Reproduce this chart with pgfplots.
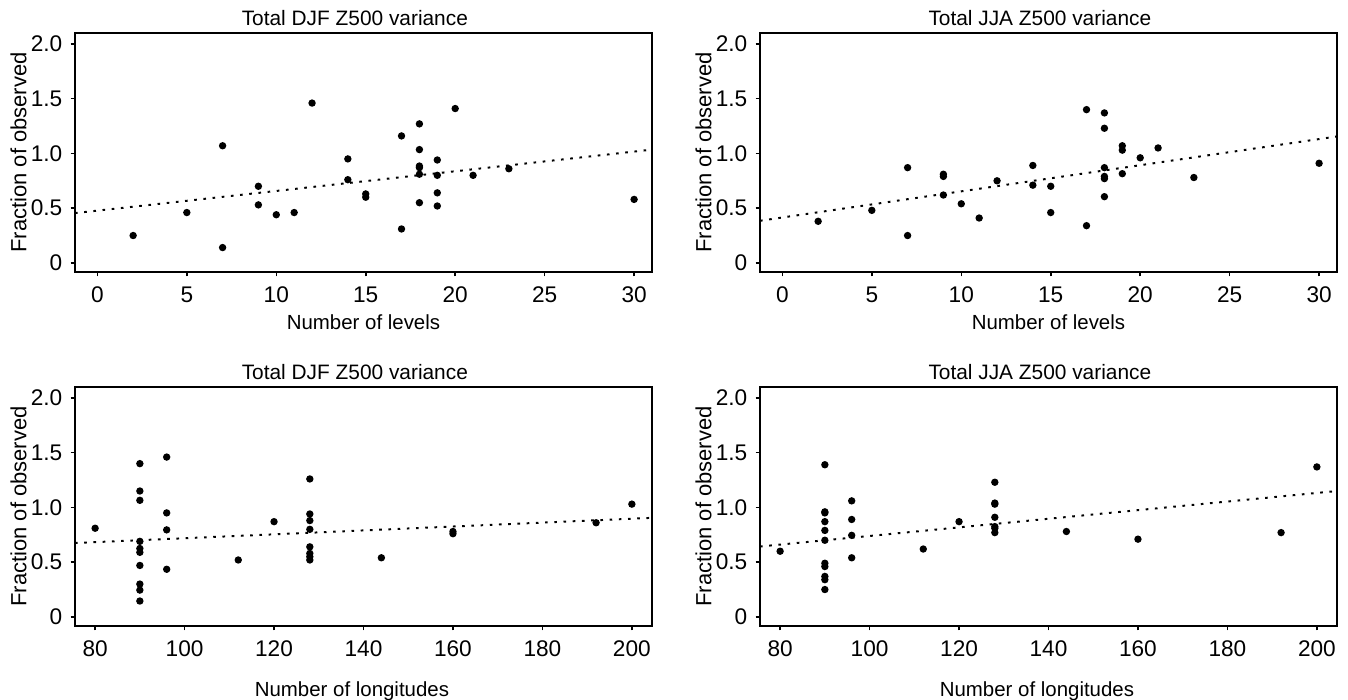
\documentclass[border=0pt]{standalone}
\usepackage{fontspec}
\setmainfont{Liberation Sans}
\usepackage{pgfplots}
\pgfplotsset{compat=1.18}

\pgfplotsset{
  panel/.style={
    scale only axis,
    width=9.232cm, height=3.824cm,
    ymin=-0.083, ymax=2.1,
    ytick={0,0.5,1,1.5,2},
    yticklabels={0,0.5,1.0,1.5,2.0},
    tick align=outside,
    xtick pos=lower, ytick pos=left,
    major tick length=0.07cm,
    line width=0.9pt,
    major tick style={line width=0.7pt,black},
    /pgf/number format/assume math mode=true,
    tick label style={font=\fontsize{10.3}{12}\selectfont},
    xticklabel style={yshift=-0.04cm},
    every axis title/.style={font=\fontsize{9.5}{11}\selectfont,at={(axis description cs:0.485,1.063)},anchor=center},
    ylabel={Fraction of observed},
    ylabel style={font=\fontsize{10}{12}\selectfont,at={(axis description cs:-0.098,0.5)},anchor=center},
    xlabel style={font=\fontsize{9.3}{11}\selectfont},
    anchor=north west,
  },
  pts/.style={only marks,mark=*,mark size=1.2pt,black},
  trend/.style={black,line width=0.9pt,dash pattern=on 1.2pt off 3pt},
}

\begin{document}
\begin{tikzpicture}
\useasboundingbox (0,0) rectangle (21.568cm,-11.2cm);

% DJF, levels
\begin{axis}[panel, at={(1.2cm,-0.528cm)},
  xmin=-1.25, xmax=31, xtick={0,5,10,15,20,25,30},
  title={Total DJF Z500 variance},
  xlabel={Number of levels},
  xlabel style={at={(axis description cs:0.5,-0.21)},anchor=center}]
\addplot[trend] coordinates {(-1.25,0.455) (31,1.035)};
\addplot[pts] coordinates {
  (2,0.25) (5,0.46) (7,1.07) (7,0.14) (9,0.70) (9,0.53) (10,0.44) (11,0.46)
  (12,1.46) (14,0.95) (14,0.76) (15,0.63) (15,0.60) (17,1.16) (17,0.31)
  (18,1.27) (18,1.035) (18,0.885) (18,0.87) (18,0.81) (18,0.55)
  (19,0.94) (19,0.80) (19,0.64) (19,0.52) (20,1.41) (21,0.80) (23,0.86) (30,0.58)};
\end{axis}

% JJA, levels
\begin{axis}[panel, at={(12.16cm,-0.528cm)},
  xmin=-1.25, xmax=31, xtick={0,5,10,15,20,25,30},
  title={Total JJA Z500 variance},
  xlabel={Number of levels},
  xlabel style={at={(axis description cs:0.5,-0.21)},anchor=center}]
\addplot[trend] coordinates {(-1.25,0.385) (31,1.155)};
\addplot[pts] coordinates {
  (2,0.38) (5,0.48) (7,0.87) (7,0.25) (9,0.81) (9,0.79) (9,0.62) (10,0.54)
  (11,0.41) (12,0.75) (14,0.89) (14,0.71) (15,0.70) (15,0.46) (17,1.40) (17,0.34)
  (18,1.37) (18,1.23) (18,0.87) (18,0.79) (18,0.77) (18,0.605)
  (19,1.07) (19,1.03) (19,0.815) (20,0.96) (21,1.05) (23,0.78) (30,0.91)};
\end{axis}

% DJF, longitudes
\begin{axis}[panel, at={(1.2cm,-6.192cm)},
  xmin=75.5, xmax=204.5, xtick={80,100,...,200},
  title={Total DJF Z500 variance},
  xlabel={Number of longitudes},
  xlabel style={at={(axis description cs:0.48,-0.272)},anchor=center}]
\addplot[trend] coordinates {(75.5,0.675) (204.5,0.905)};
\addplot[pts] coordinates {
  (80,0.81) (90,1.40) (90,1.15) (90,1.065) (90,0.69) (90,0.625) (90,0.59)
  (90,0.47) (90,0.30) (90,0.245) (90,0.145)
  (96,1.46) (96,0.95) (96,0.795) (96,0.435) (112,0.52) (120,0.87)
  (128,1.26) (128,0.94) (128,0.88) (128,0.80) (128,0.64) (128,0.58) (128,0.55) (128,0.52)
  (144,0.54) (160,0.78) (160,0.76) (192,0.86) (200,1.03)};
\end{axis}

% JJA, longitudes
\begin{axis}[panel, at={(12.16cm,-6.192cm)},
  xmin=75.5, xmax=204.5, xtick={80,100,...,200},
  title={Total JJA Z500 variance},
  xlabel={Number of longitudes},
  xlabel style={at={(axis description cs:0.48,-0.272)},anchor=center}]
\addplot[trend] coordinates {(75.5,0.643) (204.5,1.15)};
\addplot[pts] coordinates {
  (80,0.60) (90,1.39) (90,0.96) (90,0.95) (90,0.87) (90,0.79) (90,0.70)
  (90,0.49) (90,0.46) (90,0.37) (90,0.34) (90,0.25)
  (96,1.06) (96,0.89) (96,0.745) (96,0.54) (112,0.62) (120,0.87)
  (128,1.23) (128,1.04) (128,1.03) (128,0.91) (128,0.825) (128,0.81) (128,0.77)
  (144,0.78) (160,0.71) (192,0.77) (200,1.37)};
\end{axis}
\end{tikzpicture}
\end{document}
